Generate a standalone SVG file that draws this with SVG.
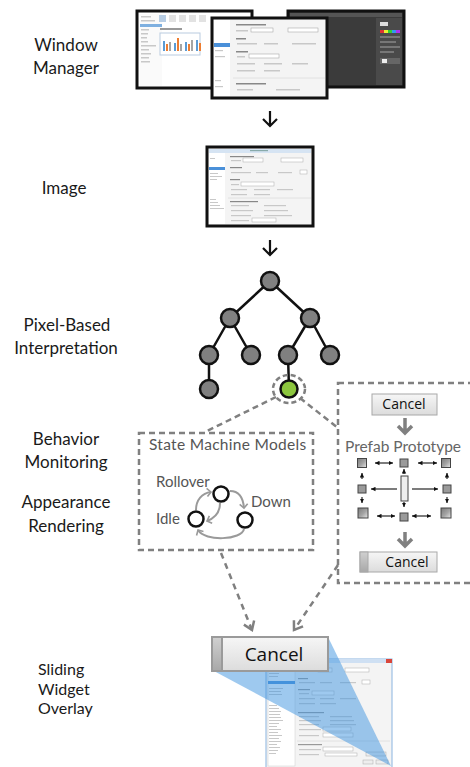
<svg xmlns="http://www.w3.org/2000/svg" width="470" height="767" viewBox="0 0 470 767">
<defs>
<style>
.lbl{font-family:Lato,"Open Sans",sans-serif;font-size:17px;fill:#1a1a1a;text-anchor:middle}
.gtxt{font-family:Lato,"Open Sans",sans-serif;fill:#555}
.btxt{font-family:"Open Sans",Lato,sans-serif;fill:#111;text-anchor:middle}
.tn{fill:#808080;stroke:#111;stroke-width:2.5}
.te{stroke:#111;stroke-width:2.5;fill:none}
.dash{fill:none;stroke:#808080;stroke-width:2.5;stroke-dasharray:6 4}
.sm{fill:#fff;stroke:#111;stroke-width:2.5}
.sa{fill:none;stroke:#9a9a9a;stroke-width:2}
.sq{stroke:#444;stroke-width:1}
.pa{stroke:#111;stroke-width:1.1;fill:none}
.gl{fill:#c8c8c8}
.win{stroke:#111;stroke-width:3}
</style>
<linearGradient id="btn" x1="0" y1="0" x2="0" y2="1"><stop offset="0" stop-color="#f6f6f6"/><stop offset="1" stop-color="#dcdcdc"/></linearGradient>
<linearGradient id="hdl" x1="0" y1="0" x2="0" y2="1"><stop offset="0" stop-color="#d0d0d0"/><stop offset="1" stop-color="#a8a8a8"/></linearGradient>
<linearGradient id="sqg" x1="0" y1="0" x2="1" y2="1"><stop offset="0" stop-color="#7a7a7a"/><stop offset="0.55" stop-color="#a5a5a5"/><stop offset="1" stop-color="#e8e8e8"/></linearGradient>
<marker id="ah" markerWidth="10" markerHeight="10" refX="5" refY="5" orient="auto" markerUnits="userSpaceOnUse"><path d="M1,1 L5,5 L1,9" fill="none" stroke="#9a9a9a" stroke-width="1.6"/></marker>
<marker id="pah" markerWidth="5" markerHeight="5" refX="4.5" refY="2.5" orient="auto-start-reverse" markerUnits="userSpaceOnUse"><path d="M0,0.3 L4.5,2.5 L0,4.7 Z" fill="#111"/></marker>
<marker id="dah" markerWidth="14" markerHeight="14" refX="10" refY="7" orient="auto" markerUnits="userSpaceOnUse"><path d="M2,1.5 L10,7 L2,12.5" fill="none" stroke="#808080" stroke-width="2.5"/></marker>
</defs>
<rect width="470" height="767" fill="#fff"/>

<g id="labels">
<text class="lbl" x="66" y="51">Window</text>
<text class="lbl" x="66" y="74">Manager</text>
<text class="lbl" x="64" y="194">Image</text>
<text class="lbl" x="67" y="331">Pixel-Based</text>
<text class="lbl" x="66" y="354">Interpretation</text>
<text class="lbl" x="66" y="445">Behavior</text>
<text class="lbl" x="66" y="468">Monitoring</text>
<text class="lbl" x="66" y="508">Appearance</text>
<text class="lbl" x="66" y="532">Rendering</text>
<text class="lbl" x="38" y="675" style="text-anchor:start;font-size:16px">Sliding</text>
<text class="lbl" x="38" y="695" style="text-anchor:start;font-size:16px">Widget</text>
<text class="lbl" x="38" y="714" style="text-anchor:start;font-size:16px">Overlay</text>
</g>

<g id="window-manager">
<rect x="137" y="11" width="115" height="77" fill="#fff" class="win"/>
<rect x="140" y="14" width="22" height="72" fill="#fafafa"/>
<rect x="141" y="16" width="10" height="1.5" class="gl"/>
<rect x="141" y="20" width="14" height="1.5" class="gl"/>
<rect x="140" y="24" width="22" height="3" fill="#7fb0e0"/>
<rect x="141" y="29" width="8" height="1.5" class="gl"/>
<rect x="141" y="33" width="7" height="1.5" class="gl"/>
<rect x="141" y="37" width="6" height="1.5" class="gl"/>
<rect x="141" y="41" width="7" height="1.5" class="gl"/>
<rect x="141" y="45" width="15" height="1.5" class="gl"/>
<rect x="141" y="49" width="8" height="1.5" class="gl"/>
<rect x="141" y="53" width="10" height="1.5" class="gl"/>
<rect x="141" y="57" width="8" height="1.5" class="gl"/>
<rect x="141" y="61" width="9" height="1.5" class="gl"/>
<rect x="159" y="15" width="7" height="7" fill="#b7cde4"/>
<rect x="169" y="15" width="7" height="7" fill="#e2e2e2"/>
<rect x="179" y="15" width="7" height="7" fill="#e2e2e2"/>
<rect x="189" y="15" width="7" height="7" fill="#e2e2e2"/>
<rect x="199" y="15" width="7" height="7" fill="#e2e2e2"/>
<rect x="160" y="28" width="22" height="2" fill="#999"/>
<rect x="160" y="33" width="40" height="22" fill="#fff" stroke="#b9cbe0" stroke-width="1"/>
<rect x="163" y="41" width="2" height="10" fill="#5b9bd5"/><rect x="166" y="44" width="2" height="7" fill="#ed7d31"/><rect x="169" y="42" width="2" height="9" fill="#a5a5a5"/>
<rect x="174" y="43" width="2" height="8" fill="#5b9bd5"/><rect x="177" y="38" width="2" height="13" fill="#ed7d31"/><rect x="180" y="44" width="2" height="7" fill="#a5a5a5"/>
<rect x="185" y="42" width="2" height="9" fill="#5b9bd5"/><rect x="188" y="44" width="2" height="7" fill="#ed7d31"/><rect x="191" y="40" width="2" height="11" fill="#a5a5a5"/>
<rect x="196" y="40" width="2" height="11" fill="#5b9bd5"/><rect x="199" y="43" width="2" height="8" fill="#ed7d31"/>
<rect x="288" y="11" width="116" height="76" fill="#3b3b3b" class="win"/>
<rect x="290" y="13" width="112" height="4" fill="#555"/>
<rect x="376" y="18" width="26" height="67" fill="#4a4a4a"/>
<rect x="380" y="22" width="8" height="4" fill="#ddd"/>
<rect x="380" y="30" width="20" height="3" fill="#d33"/><rect x="384" y="30" width="4" height="3" fill="#ee3"/><rect x="388" y="30" width="4" height="3" fill="#3c3"/><rect x="392" y="30" width="4" height="3" fill="#39e"/><rect x="396" y="30" width="4" height="3" fill="#a3e"/>
<rect x="380" y="36" width="20" height="2" fill="#777"/>
<rect x="380" y="41" width="16" height="2" fill="#777"/>
<rect x="380" y="46" width="20" height="2" fill="#777"/>
<rect x="380" y="51" width="14" height="2" fill="#777"/>
<rect x="380" y="58" width="20" height="6" fill="#666"/>
<rect x="382" y="59" width="5" height="4" fill="#eee"/>
<rect x="212" y="18" width="115" height="80" fill="#f4f4f4" class="win"/>
<rect x="214" y="20" width="16" height="76" fill="#fff"/>
<rect x="214" y="43" width="16" height="4" fill="#4a90d9"/>
<rect x="215" y="50" width="8" height="1.2" class="gl"/><rect x="215" y="56" width="10" height="1.2" class="gl"/><rect x="215" y="80" width="6" height="1.2" class="gl"/><rect x="215" y="86" width="8" height="1.2" class="gl"/>
<rect x="236" y="24" width="30" height="1.5" fill="#888"/>
<rect x="236" y="30" width="12" height="1.5" class="gl"/><rect x="251" y="28" width="22" height="4" fill="#fff" stroke="#aaa" stroke-width=".6"/><rect x="288" y="28" width="30" height="4" fill="#fff" stroke="#aaa" stroke-width=".6"/>
<rect x="236" y="38" width="10" height="1.5" fill="#888"/>
<rect x="237" y="43" width="20" height="1.5" class="gl"/><rect x="264" y="43" width="14" height="1.5" class="gl"/><rect x="292" y="43" width="24" height="1.5" class="gl"/>
<rect x="236" y="51" width="12" height="1.5" fill="#888"/>
<rect x="237" y="56" width="8" height="1.5" class="gl"/><rect x="249" y="54" width="30" height="4" fill="#fff" stroke="#aaa" stroke-width=".6"/>
<rect x="237" y="63" width="18" height="1.5" class="gl"/><rect x="264" y="63" width="18" height="1.5" class="gl"/><rect x="292" y="63" width="16" height="1.5" class="gl"/>
<rect x="237" y="70" width="18" height="1.5" class="gl"/><rect x="264" y="70" width="16" height="1.5" class="gl"/>
<line x1="233" y1="78" x2="325" y2="78" stroke="#ddd" stroke-width=".8"/>
<rect x="236" y="83" width="30" height="1.5" fill="#888"/>
<rect x="237" y="89" width="16" height="1.5" class="gl"/><rect x="276" y="89" width="24" height="1.5" class="gl"/>
</g>

<g id="image">
<rect x="207" y="147" width="106" height="79" fill="#f4f4f4" class="win"/>
<rect x="209" y="149" width="102" height="4" fill="#d6e4f3"/>
<rect x="250" y="150" width="18" height="1.2" fill="#8aa"/>
<rect x="209" y="153" width="16" height="71" fill="#fff"/>
<rect x="209" y="167" width="16" height="3" fill="#4a90d9"/>
<rect x="210" y="158" width="5" height="1" class="gl"/><rect x="210" y="173" width="8" height="1" class="gl"/><rect x="210" y="176" width="12" height="1" class="gl"/><rect x="210" y="179" width="7" height="1" class="gl"/>
<rect x="210" y="199" width="6" height="1" class="gl"/><rect x="210" y="202" width="8" height="1" class="gl"/><rect x="210" y="205" width="10" height="1" class="gl"/><rect x="210" y="208" width="14" height="1" class="gl"/>
<rect x="230" y="156" width="24" height="1.2" fill="#888"/>
<rect x="231" y="160" width="10" height="1.2" class="gl"/><rect x="243" y="158" width="20" height="4" fill="#fff" stroke="#aaa" stroke-width=".5"/><rect x="281" y="158" width="22" height="4" fill="#fff" stroke="#aaa" stroke-width=".5"/>
<rect x="230" y="167" width="12" height="1.2" fill="#888"/>
<rect x="231" y="172" width="20" height="1.2" class="gl"/><rect x="256" y="172" width="12" height="1.2" class="gl"/><rect x="278" y="172" width="14" height="1.2" class="gl"/><rect x="300" y="170" width="7" height="4" fill="#fff" stroke="#aaa" stroke-width=".5"/>
<rect x="230" y="179" width="10" height="1.2" fill="#888"/>
<rect x="231" y="184" width="8" height="1.2" class="gl"/><rect x="241" y="182" width="33" height="4" fill="#fff" stroke="#aaa" stroke-width=".5"/>
<rect x="231" y="189" width="16" height="1.2" class="gl"/><rect x="254" y="189" width="16" height="1.2" class="gl"/><rect x="277" y="189" width="16" height="1.2" class="gl"/>
<rect x="231" y="194" width="16" height="1.2" class="gl"/><rect x="254" y="194" width="16" height="1.2" class="gl"/>
<line x1="228" y1="198" x2="311" y2="198" stroke="#ddd" stroke-width=".8"/>
<rect x="230" y="201" width="28" height="1.2" fill="#888"/>
<rect x="231" y="205" width="18" height="1.2" class="gl"/><rect x="264" y="205" width="22" height="1.2" class="gl"/>
<rect x="231" y="210" width="22" height="1.2" class="gl"/><rect x="264" y="210" width="24" height="1.2" class="gl"/>
<rect x="231" y="215" width="20" height="1.2" class="gl"/><rect x="264" y="215" width="28" height="1.2" class="gl"/>
<rect x="231" y="220" width="18" height="1.2" class="gl"/><rect x="252" y="218" width="24" height="4" fill="#fff" stroke="#aaa" stroke-width=".5"/>
</g>

<g id="tree">
<path class="te" d="M270,281 L230,318 M270,281 L310,318 M230,318 L209,355 M230,318 L251,355 M310,318 L288,355 M310,318 L330,355 M209,355 L209,389 M288,355 L289,389"/>
<circle class="tn" cx="270" cy="281" r="9"/>
<circle class="tn" cx="230" cy="318" r="9"/>
<circle class="tn" cx="310" cy="318" r="9"/>
<circle class="tn" cx="209" cy="355" r="9"/>
<circle class="tn" cx="251" cy="355" r="9"/>
<circle class="tn" cx="288" cy="355" r="9"/>
<circle class="tn" cx="330" cy="355" r="9"/>
<circle class="tn" cx="209" cy="389" r="9"/>
<circle cx="289" cy="389" r="8.5" fill="#8cc63e" stroke="#111" stroke-width="2.5"/>
<ellipse class="dash" cx="289" cy="389" rx="16" ry="14" style="stroke-dasharray:5 3"/>
</g>

<g id="state-machine">
<rect class="dash" x="139" y="433" width="174" height="117"/>
<text class="gtxt" x="149" y="450" font-size="15.5" letter-spacing="0.3">State  Machine Models</text>
<text class="gtxt" x="156" y="487" font-size="15">Rollover</text>
<text class="gtxt" x="251" y="507" font-size="15">Down</text>
<text class="gtxt" x="156" y="524" font-size="15">Idle</text>
<path class="sa" d="M196,510 C196,500 202,493 211,492" marker-end="url(#ah)"/>
<path class="sa" d="M220,503 C220,512 215,518 207,521" marker-end="url(#ah)"/>
<path class="sa" d="M230,491 C238,491 243,496 244,508" marker-end="url(#ah)"/>
<path class="sa" d="M244,529 C242,540 205,542 198,530" marker-end="url(#ah)"/>
<circle class="sm" cx="221" cy="494" r="7.5"/>
<circle class="sm" cx="196" cy="519" r="7.5"/>
<circle class="sm" cx="245" cy="520" r="7.5"/>
</g>

<g id="prefab">
<rect class="dash" x="338" y="383" width="136" height="200"/>
<rect x="372" y="394" width="65" height="21" fill="url(#btn)" stroke="#a8a8a8" stroke-width="1"/>
<text class="btxt" x="404" y="409" font-size="14">Cancel</text>
<path d="M405,418 L405,433 M398,426 L405,433 L412,426" fill="none" stroke="#808080" stroke-width="3.5"/>
<text class="gtxt" x="403" y="452" font-size="15.5" text-anchor="middle" style="fill:#666">Prefab Prototype</text>
<rect class="sq" x="357.5" y="458.5" width="9" height="9" fill="url(#sqg)"/>
<rect class="sq" x="400" y="459" width="8" height="8" fill="#9a9a9a"/>
<rect class="sq" x="441.5" y="458.5" width="9" height="9" fill="url(#sqg)"/>
<rect class="sq" x="358" y="485" width="8" height="8" fill="#9a9a9a"/>
<rect class="sq" x="401" y="476" width="7" height="25" fill="#eee"/>
<rect class="sq" x="443" y="485" width="8" height="8" fill="#9a9a9a"/>
<rect class="sq" x="358" y="508" width="10" height="10" fill="url(#sqg)"/>
<rect class="sq" x="400" y="513" width="8" height="8" fill="#9a9a9a"/>
<rect class="sq" x="441" y="508" width="10" height="10" fill="url(#sqg)"/>
<g class="pa">
<path d="M375,463 L393,463" marker-end="url(#pah)" marker-start="url(#pah)"/>
<path d="M418,463 L437,463" marker-end="url(#pah)" marker-start="url(#pah)"/>
<path d="M377,516 L395,516" marker-end="url(#pah)" marker-start="url(#pah)"/>
<path d="M412,516 L431,516" marker-end="url(#pah)" marker-start="url(#pah)"/>
<path d="M397,489 L371,489" marker-end="url(#pah)"/>
<path d="M412,489 L438,489" marker-end="url(#pah)"/>
<path d="M362,479 L362,473" marker-end="url(#pah)"/>
<path d="M447,479 L447,473" marker-end="url(#pah)"/>
<path d="M404,474 L404,469" marker-end="url(#pah)"/>
<path d="M362,497 L362,503" marker-end="url(#pah)"/>
<path d="M447,497 L447,503" marker-end="url(#pah)"/>
<path d="M404,502 L404,507" marker-end="url(#pah)"/>
</g>
<path d="M405,532 L405,546 M398,539 L405,546 L412,539" fill="none" stroke="#808080" stroke-width="3.5"/>
<rect x="360" y="552" width="77" height="20" fill="url(#btn)" stroke="#a8a8a8" stroke-width="1"/>
<rect x="360" y="552" width="8" height="20" fill="url(#hdl)" stroke="#a8a8a8" stroke-width="1"/>
<text class="btxt" x="407" y="567" font-size="14">Cancel</text>
</g>

<g id="overlay">
<rect x="266" y="659" width="126" height="110" fill="#f4f4f4" stroke="#8ab4e0" stroke-width="1"/>
<rect x="266" y="659" width="126" height="4" fill="#cfe0f3"/>
<rect x="386" y="659" width="6" height="4" fill="#d9453a"/>
<rect x="268" y="666" width="27" height="100" fill="#fff" stroke="#ccc" stroke-width=".5"/>
<rect x="268" y="681" width="27" height="3" fill="#4a90d9"/>
<rect x="269" y="670" width="12" height="1" class="gl"/><rect x="269" y="673" width="10" height="1" class="gl"/><rect x="269" y="676" width="9" height="1" class="gl"/>
<rect x="269" y="688" width="14" height="1" class="gl"/><rect x="269" y="691" width="12" height="1" class="gl"/><rect x="269" y="694" width="13" height="1" class="gl"/>
<rect x="269" y="705" width="8" height="1" class="gl"/><rect x="269" y="708" width="10" height="1" class="gl"/><rect x="269" y="711" width="12" height="1" class="gl"/><rect x="269" y="714" width="11" height="1" class="gl"/><rect x="269" y="717" width="12" height="1" class="gl"/><rect x="269" y="720" width="14" height="1" class="gl"/><rect x="269" y="723" width="10" height="1" class="gl"/><rect x="269" y="726" width="8" height="1" class="gl"/><rect x="269" y="729" width="12" height="1" class="gl"/><rect x="269" y="732" width="9" height="1" class="gl"/><rect x="269" y="735" width="13" height="1" class="gl"/><rect x="269" y="738" width="10" height="1" class="gl"/><rect x="269" y="741" width="12" height="1" class="gl"/><rect x="269" y="744" width="8" height="1" class="gl"/><rect x="269" y="747" width="11" height="1" class="gl"/><rect x="269" y="750" width="9" height="1" class="gl"/><rect x="269" y="753" width="7" height="1" class="gl"/>
<rect x="298" y="670" width="16" height="1.2" class="gl"/><rect x="318" y="668" width="14" height="4" fill="#fff" stroke="#aaa" stroke-width=".5"/><rect x="345" y="668" width="24" height="4" fill="#fff" stroke="#aaa" stroke-width=".5"/>
<rect x="298" y="678" width="10" height="1.2" fill="#999"/>
<rect x="299" y="682" width="16" height="1.2" class="gl"/><rect x="320" y="682" width="12" height="1.2" class="gl"/><rect x="340" y="682" width="16" height="1.2" class="gl"/><rect x="362" y="680" width="8" height="4" fill="#fff" stroke="#aaa" stroke-width=".5"/>
<rect x="298" y="689" width="12" height="1.2" fill="#999"/>
<rect x="299" y="693" width="10" height="1.2" class="gl"/><rect x="312" y="691" width="22" height="4" fill="#fff" stroke="#aaa" stroke-width=".5"/>
<rect x="299" y="698" width="16" height="1.2" class="gl"/><rect x="320" y="698" width="14" height="1.2" class="gl"/><rect x="340" y="698" width="16" height="1.2" class="gl"/>
<rect x="299" y="703" width="16" height="1.2" class="gl"/><rect x="320" y="703" width="16" height="1.2" class="gl"/>
<rect x="298" y="712" width="26" height="1.2" fill="#999"/>
<rect x="299" y="716" width="20" height="1.2" class="gl"/><rect x="330" y="716" width="22" height="1.2" class="gl"/>
<rect x="299" y="720" width="22" height="1.2" class="gl"/><rect x="330" y="720" width="24" height="1.2" class="gl"/>
<rect x="299" y="724" width="20" height="1.2" class="gl"/><rect x="330" y="724" width="26" height="1.2" class="gl"/>
<rect x="299" y="729" width="22" height="1.2" class="gl"/><rect x="323" y="727" width="28" height="4" fill="#fff" stroke="#aaa" stroke-width=".5"/>
<rect x="299" y="735" width="20" height="1.2" class="gl"/><rect x="323" y="733" width="30" height="4" fill="#fff" stroke="#aaa" stroke-width=".5"/>
<line x1="297" y1="741" x2="390" y2="741" stroke="#ddd" stroke-width=".8"/>
<rect x="298" y="744" width="24" height="1.2" fill="#999"/>
<rect x="299" y="749" width="22" height="1.2" class="gl"/><rect x="323" y="747" width="30" height="4" fill="#fff" stroke="#aaa" stroke-width=".5"/>
<rect x="299" y="754" width="20" height="1.2" class="gl"/><rect x="325" y="753" width="32" height="3" fill="#fff" stroke="#aaa" stroke-width=".5"/><rect x="366" y="752" width="20" height="4" fill="#eee" stroke="#aaa" stroke-width=".5"/>
<rect x="363" y="760" width="10" height="4" fill="#eee" stroke="#aaa" stroke-width=".5"/><rect x="376" y="760" width="12" height="4" fill="#eee" stroke="#aaa" stroke-width=".5"/>
<polygon points="212,670 328,637 391,766" fill="#3d94e0" fill-opacity="0.5"/>
<rect x="212" y="637" width="116" height="34" fill="url(#btn)" stroke="#9a9a9a" stroke-width="2"/>
<rect x="212" y="637" width="10" height="34" fill="url(#hdl)" stroke="#9a9a9a" stroke-width="2"/>
<text class="btxt" x="274" y="661" font-size="19">Cancel</text>
</g>

<g id="connectors">
<path d="M270,111 L270,126 M263,119 L270,126 L277,119" fill="none" stroke="#111" stroke-width="2.2"/>
<path d="M270,240 L270,255 M263,248 L270,255 L277,248" fill="none" stroke="#111" stroke-width="2.2"/>
<path class="dash" d="M276,397 L207,431"/>
<path class="dash" d="M300,398 L338,428"/>
<path class="dash" d="M221,553 L252,630" marker-end="url(#dah)" style="stroke-dasharray:6 5"/>
<path class="dash" d="M338,565 L294,630" marker-end="url(#dah)" style="stroke-dasharray:6 5"/>
</g>
</svg>
